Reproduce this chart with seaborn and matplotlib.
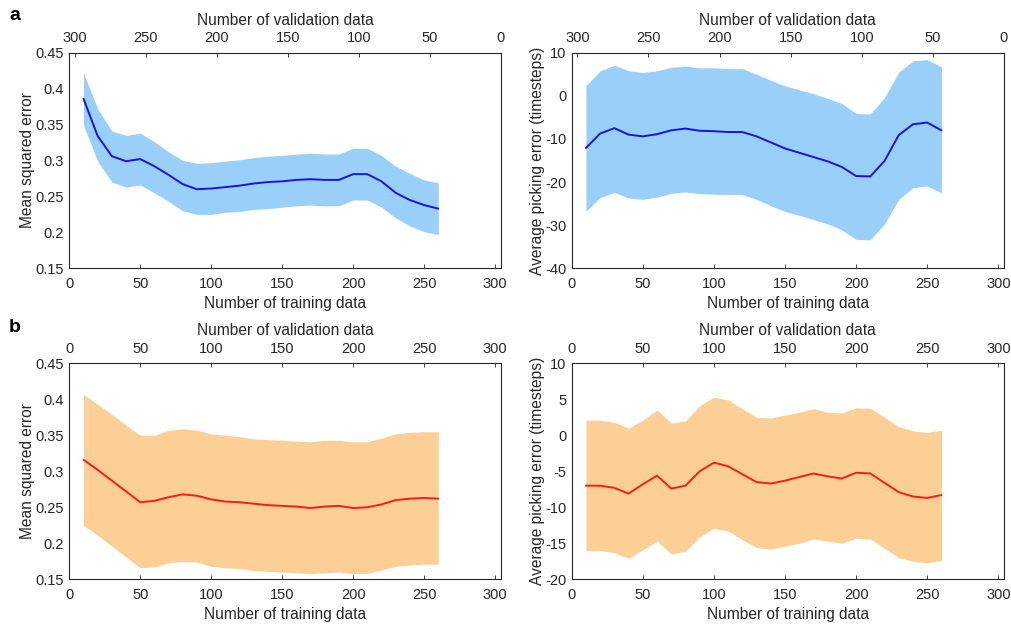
import numpy as np
import pandas as pd
import matplotlib
matplotlib.use("Agg")
import matplotlib.pyplot as plt
import seaborn as sns

# Training-set sizes
n_train = list(range(10, 261, 10))

# (a) Mean squared error, blue
mse_a_mean = [0.386, 0.334, 0.306, 0.299, 0.302, 0.292, 0.280, 0.267, 0.260, 0.261,
              0.263, 0.265, 0.268, 0.270, 0.271, 0.273, 0.274, 0.273, 0.273, 0.281,
              0.281, 0.271, 0.255, 0.245, 0.238, 0.233]
mse_a_upper = [0.422, 0.372, 0.341, 0.335, 0.338, 0.326, 0.312, 0.300, 0.296, 0.297,
               0.299, 0.301, 0.304, 0.306, 0.307, 0.309, 0.310, 0.309, 0.309, 0.317,
               0.317, 0.307, 0.292, 0.282, 0.273, 0.269]
mse_a_lower = [0.349, 0.299, 0.270, 0.263, 0.266, 0.255, 0.243, 0.230, 0.225, 0.225,
               0.228, 0.229, 0.232, 0.233, 0.235, 0.237, 0.238, 0.237, 0.237, 0.245,
               0.245, 0.235, 0.220, 0.209, 0.201, 0.197]

# (a) Average picking error, blue
pick_a_mean = [-12.1, -8.75, -7.5, -9.0, -9.4, -8.9, -8.0, -7.6, -8.1, -8.2,
               -8.4, -8.4, -9.4, -10.8, -12.2, -13.2, -14.2, -15.2, -16.5, -18.6,
               -18.7, -15.1, -9.1, -6.6, -6.2, -8.0]
pick_a_upper = [2.4, 5.8, 7.1, 5.8, 5.4, 5.8, 6.6, 6.9, 6.5, 6.5,
                6.3, 6.3, 5.0, 3.6, 2.3, 1.4, 0.5, -0.6, -1.8, -4.1,
                -4.2, -0.4, 5.5, 8.1, 8.4, 6.7]
pick_a_lower = [-26.8, -23.6, -22.4, -23.7, -24.0, -23.5, -22.6, -22.3, -22.7, -22.8,
                -22.9, -22.9, -24.0, -25.5, -26.8, -27.7, -28.7, -29.7, -31.1, -33.3,
                -33.4, -29.7, -24.0, -21.3, -20.9, -22.5]

# (b) Mean squared error, orange
mse_b_mean = [0.316, 0.302, 0.287, 0.272, 0.257, 0.259, 0.264, 0.268, 0.266, 0.261,
              0.258, 0.257, 0.255, 0.253, 0.252, 0.251, 0.249, 0.251, 0.252, 0.249,
              0.250, 0.254, 0.260, 0.262, 0.263, 0.262]
mse_b_upper = [0.407, 0.393, 0.379, 0.364, 0.350, 0.350, 0.357, 0.359, 0.357, 0.352,
               0.350, 0.348, 0.345, 0.344, 0.343, 0.342, 0.341, 0.343, 0.343, 0.341,
               0.341, 0.346, 0.352, 0.354, 0.355, 0.355]
mse_b_lower = [0.225, 0.211, 0.196, 0.181, 0.166, 0.167, 0.173, 0.175, 0.174, 0.168,
               0.166, 0.165, 0.162, 0.161, 0.160, 0.159, 0.158, 0.159, 0.160, 0.158,
               0.158, 0.163, 0.168, 0.170, 0.171, 0.171]

# (b) Average picking error, orange
pick_b_mean = [-7.0, -7.0, -7.3, -8.1, -6.8, -5.6, -7.4, -7.0, -5.0, -3.8,
               -4.3, -5.4, -6.5, -6.7, -6.3, -5.8, -5.3, -5.7, -6.0, -5.2,
               -5.3, -6.6, -7.9, -8.5, -8.7, -8.3]
pick_b_upper = [2.1, 2.1, 1.8, 1.0, 2.1, 3.5, 1.7, 2.0, 4.1, 5.3,
                4.9, 3.7, 2.5, 2.4, 2.8, 3.2, 3.7, 3.2, 3.1, 3.8,
                3.75, 2.5, 1.2, 0.6, 0.4, 0.7]
pick_b_lower = [-16.0, -16.0, -16.3, -17.1, -15.9, -14.7, -16.5, -16.1, -14.1, -12.9,
                -13.3, -14.5, -15.6, -15.8, -15.4, -15.0, -14.4, -14.7, -15.0, -14.3,
                -14.4, -15.7, -17.0, -17.5, -17.7, -17.4]

x_ticks = [0, 50, 100, 150, 200, 250, 300]
mse_ticks = [0.15, 0.2, 0.25, 0.3, 0.35, 0.4, 0.45]
mse_ticklabels = ["0.15", "0.2", "0.25", "0.3", "0.35", "0.4", "0.45"]
pick_a_ticks = [-40, -30, -20, -10, 0, 10]
pick_b_ticks = [-20, -15, -10, -5, 0, 5, 10]

BLUE_FILL = "#99cff8"
BLUE_LINE = "#1414e6"
ORANGE_FILL = "#fbcf96"
RED_LINE = "#ff1a1a"
INK = "#262626"

TICK_FS = 10.5
LABEL_FS = 11.2

sns.set_theme(style="white")
plt.rcParams["font.family"] = ["Liberation Sans", "DejaVu Sans"]
plt.rcParams.update({
    "font.size": 10,
    "axes.edgecolor": INK,
    "axes.labelcolor": INK,
    "xtick.color": INK,
    "ytick.color": INK,
    "axes.linewidth": 0.8,
})

fig = plt.figure(figsize=(10.12, 6.24), dpi=100)
W, H = 1012, 624


def add_axes(left, top, right, bottom):
    return fig.add_axes([left / W, 1 - bottom / H, (right - left) / W, (bottom - top) / H])


XMAX = 304


def panel(ax, mean, lower, upper, fill, line, yticks, yticklabels, ylim, ylabel, top_reversed):
    df = pd.DataFrame({"n": n_train, "mean": mean, "lo": lower, "hi": upper})
    ax.fill_between(df["n"], df["lo"], df["hi"], color=fill, linewidth=0)
    sns.lineplot(data=df, x="n", y="mean", ax=ax, color=line, linewidth=1.4)
    ax.set_xlim(0, XMAX)
    ax.set_ylim(*ylim)
    ax.set_xticks(x_ticks)
    ax.set_yticks(yticks)
    ax.set_yticklabels(yticklabels if yticklabels is not None else [str(t) for t in yticks])
    ax.set_xlabel("Number of training data", fontsize=LABEL_FS, labelpad=4)
    ax.set_ylabel(ylabel, fontsize=LABEL_FS, labelpad=0)
    ax.tick_params(axis="x", direction="in", length=3, width=0.6, labelsize=TICK_FS, pad=6)
    ax.tick_params(axis="y", direction="in", length=3, width=0.6, labelsize=TICK_FS, pad=4)
    ax.tick_params(axis="x", top=False)
    ax.tick_params(axis="y", right=False)
    for s in ax.spines.values():
        s.set_visible(True)
        s.set_color(INK)
        s.set_linewidth(0.8)

    top = ax.twiny()
    if top_reversed:
        top.set_xlim(XMAX, 0)
    else:
        top.set_xlim(0, XMAX)
    top.set_xticks(x_ticks)
    top.set_xlabel("Number of validation data", fontsize=LABEL_FS, labelpad=4.5)
    top.tick_params(axis="x", direction="in", length=3, width=0.6, labelsize=TICK_FS, pad=5.5, colors=INK)
    for s in top.spines.values():
        s.set_visible(False)
    return ax


ax1 = add_axes(69.3, 52.7, 500.7, 268.3)
panel(ax1, mse_a_mean, mse_a_lower, mse_a_upper, BLUE_FILL, BLUE_LINE,
      mse_ticks, mse_ticklabels, (0.15, 0.45), "Mean squared error", True)

ax2 = add_axes(571.7, 52.7, 1004, 268.3)
panel(ax2, pick_a_mean, pick_a_lower, pick_a_upper, BLUE_FILL, BLUE_LINE,
      pick_a_ticks, None, (-40, 10), "Average picking error (timesteps)", True)

ax3 = add_axes(69.3, 363.3, 500.7, 579.3)
panel(ax3, mse_b_mean, mse_b_lower, mse_b_upper, ORANGE_FILL, RED_LINE,
      mse_ticks, mse_ticklabels, (0.15, 0.45), "Mean squared error", False)

ax4 = add_axes(571.7, 363.3, 1004, 579.3)
panel(ax4, pick_b_mean, pick_b_lower, pick_b_upper, ORANGE_FILL, RED_LINE,
      pick_b_ticks, None, (-20, 10), "Average picking error (timesteps)", False)

fig.text(9 / W, 1 - 16 / H, "a", fontsize=14, fontweight="bold", color="black", va="center")
fig.text(9 / W, 1 - 328 / H, "b", fontsize=14, fontweight="bold", color="black", va="center")

fig.savefig("out.png", dpi=100, facecolor="white")
